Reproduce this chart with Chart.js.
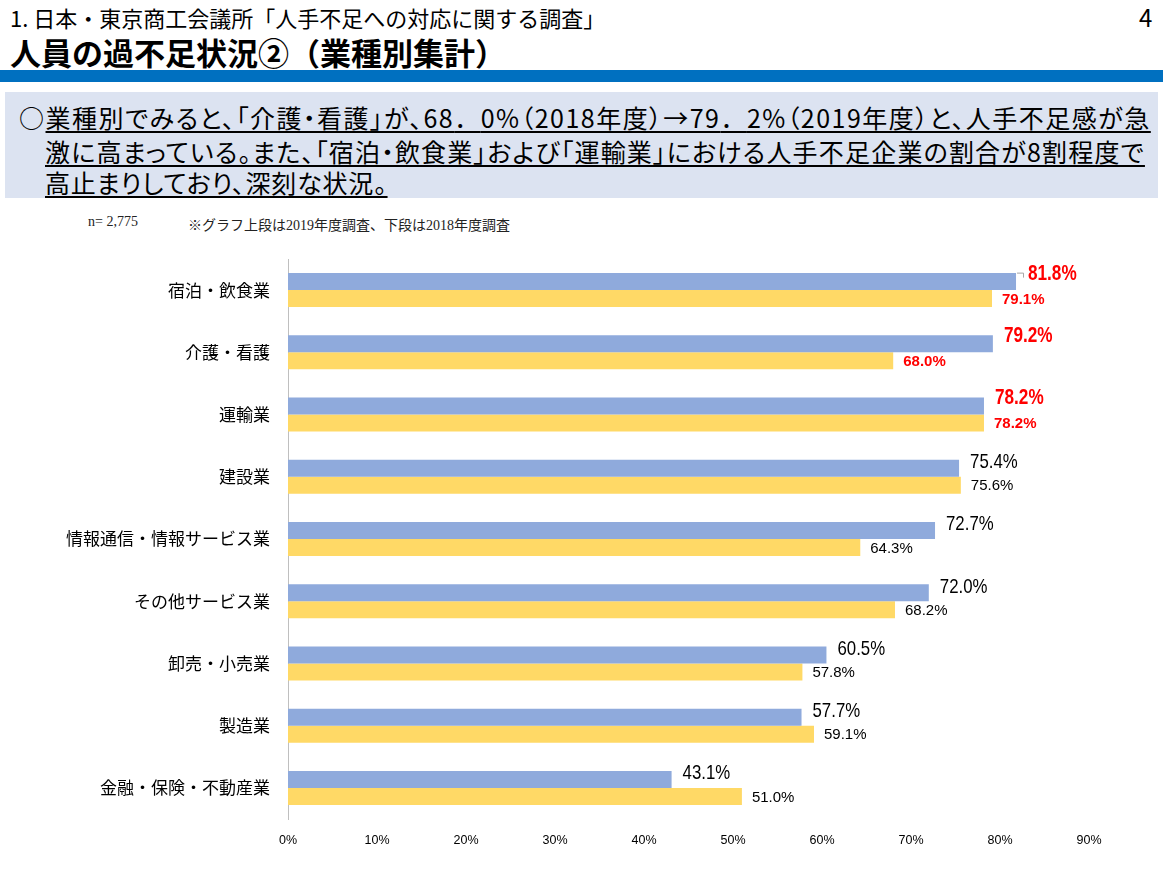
<!DOCTYPE html>
<html lang="ja">
<head>
<meta charset="utf-8">
<script src="https://cdn.jsdelivr.net/npm/chart.js@4.4.0/dist/chart.umd.min.js"></script>
<style>
  body { margin:0; width:1163px; height:872px; background:#fff; position:relative; overflow:hidden;
         font-family:"Noto Sans CJK JP", sans-serif; color:#000; }
  .sub { position:absolute; left:10px; top:3px; font-size:22px; line-height:28px; }
  .title { position:absolute; left:10px; top:33px; font-size:31px; line-height:38px; font-weight:bold; }
  .page { position:absolute; left:1139px; top:3px; font-size:24px; line-height:28px; }
  .rule { position:absolute; left:0; top:70px; width:1163px; height:12px; background:#0070C0; }
  .box { position:absolute; left:5px; top:92px; width:1153px; height:106px; background:#DCE3F1; }
  .box .ln { position:absolute; left:14px; font-size:25px; line-height:30px; white-space:nowrap;
             font-feature-settings:"palt"; letter-spacing:1.5px; }
  .box .fw { font-feature-settings:normal; }
  .box u { text-decoration-thickness:2px; text-underline-offset:3px; }
  .note { position:absolute; top:214px; font-family:"Liberation Serif", "Noto Sans CJK JP", serif; font-size:14px; color:#222; }
  #wrap { position:absolute; left:0; top:240px; width:1163px; height:632px; }
</style>
</head>
<body>
<div class="sub">1. 日本・東京商工会議所「人手不足への対応に関する調査」</div>
<div class="title">人員の過不足状況②（業種別集計）</div>
<div class="page">4</div>
<div class="rule"></div>
<div class="box">
  <div class="ln" style="top:10px;">○<u>業種別でみると、「介護・看護」が、68<span class="fw">．</span>0%（2018年度）→79<span class="fw">．</span>2%（2019年度）と、人手不足感が急</u></div>
  <div class="ln" style="top:44px;left:40px;letter-spacing:1.2px;"><u>激に高まっている。また、「宿泊・飲食業」および「運輸業」における人手不足企業の割合が8割程度で</u></div>
  <div class="ln" style="top:75px;left:40px;letter-spacing:0.85px;"><u>高止まりしており、深刻な状況。</u></div>
</div>
<div class="note" style="left:88px;">n= 2,775</div>
<div class="note" style="left:188px;">※グラフ上段は2019年度調査、下段は2018年度調査</div>
<div id="wrap"><canvas id="chart"></canvas></div>
<script>
// 業種別 人手不足の割合（上段 2019年度、下段 2018年度）
const categories = ['宿泊・飲食業', '介護・看護', '運輸業', '建設業', '情報通信・情報サービス業',
  'その他サービス業', '卸売・小売業', '製造業', '金融・保険・不動産業'];
const values2019 = [81.8, 79.2, 78.2, 75.4, 72.7, 72.0, 60.5, 57.7, 43.1];
const values2018 = [79.1, 68.0, 78.2, 75.6, 64.3, 68.2, 57.8, 59.1, 51.0];
const xTicks = [0, 10, 20, 30, 40, 50, 60, 70, 80, 90];
const highlightCount = 3; // 上位3業種は赤字

const sans = '"Liberation Sans", Arial, sans-serif';

// 値ラベル（棒の右端に描く）
const valueLabels = {
  id: 'valueLabels',
  afterDatasetsDraw(chart) {
    const ctx = chart.ctx;
    ctx.save();
    ctx.textBaseline = 'middle';
    ctx.textAlign = 'left';
    chart.getDatasetMeta(0).data.forEach((bar, i) => {
      const red = i < highlightCount;
      const x = bar.x + (i === 0 ? 12 : 11);
      const y = bar.y - (red ? 8 : 6);
      ctx.fillStyle = red ? '#FF0000' : '#000';
      ctx.font = (red ? 'bold 22px ' : '21px ') + sans;
      // Arial Narrow 風に横方向を詰める
      ctx.save();
      ctx.translate(x, y);
      ctx.scale(red ? 0.78 : 0.8, 1);
      ctx.fillText(values2019[i].toFixed(1) + '%', 0, 0);
      ctx.restore();
      if (i === 0) {
        ctx.strokeStyle = '#a6a6a6';
        ctx.lineWidth = 1;
        ctx.beginPath();
        ctx.moveTo(bar.x + 1, bar.y - 8.5);
        ctx.lineTo(bar.x + 7.5, bar.y - 8.5);
        ctx.lineTo(bar.x + 7.5, bar.y - 4);
        ctx.stroke();
      }
    });
    chart.getDatasetMeta(1).data.forEach((bar, i) => {
      const red = i < highlightCount;
      ctx.fillStyle = red ? '#FF0000' : '#000';
      ctx.font = (red ? 'bold ' : '') + '15px ' + sans;
      ctx.fillText(values2018[i].toFixed(1) + '%', bar.x + 10, bar.y + 1);
    });
    ctx.restore();
  }
};

new Chart(document.getElementById('chart').getContext('2d'), {
  type: 'bar',
  data: {
    labels: categories,
    datasets: [
      { label: '2019年度', data: values2019, backgroundColor: '#8FAADC', borderWidth: 0 },
      { label: '2018年度', data: values2018, backgroundColor: '#FFD966', borderWidth: 0 }
    ]
  },
  options: {
    indexAxis: 'y',
    responsive: true,
    maintainAspectRatio: false,
    animation: false,
    datasets: { bar: { barPercentage: 1, categoryPercentage: 0.546 } },
    layout: { padding: { top: 19, right: 74, left: 0, bottom: 0 } },
    plugins: { legend: { display: false }, tooltip: { enabled: false } },
    scales: {
      x: {
        min: 0, max: 90,
        afterBuildTicks: s => { s.ticks = xTicks.map(v => ({ value: v })); },
        afterFit: s => { s.height = 53; },
        grid: { display: false, drawTicks: false },
        border: { display: false },
        ticks: { padding: 14, color: '#000', font: { family: sans, size: 12.5 }, callback: v => v + '%' }
      },
      y: {
        afterFit: s => { s.width = 288; s.paddingTop = 0; s.paddingBottom = 0; },
        grid: { display: false, drawTicks: false },
        border: { display: true, color: '#BFBFBF', width: 1 },
        ticks: { padding: 18, color: '#000', font: { family: '"Noto Sans CJK JP", sans-serif', size: 17 } }
      }
    }
  },
  plugins: [valueLabels]
});
</script>
</body>
</html>
